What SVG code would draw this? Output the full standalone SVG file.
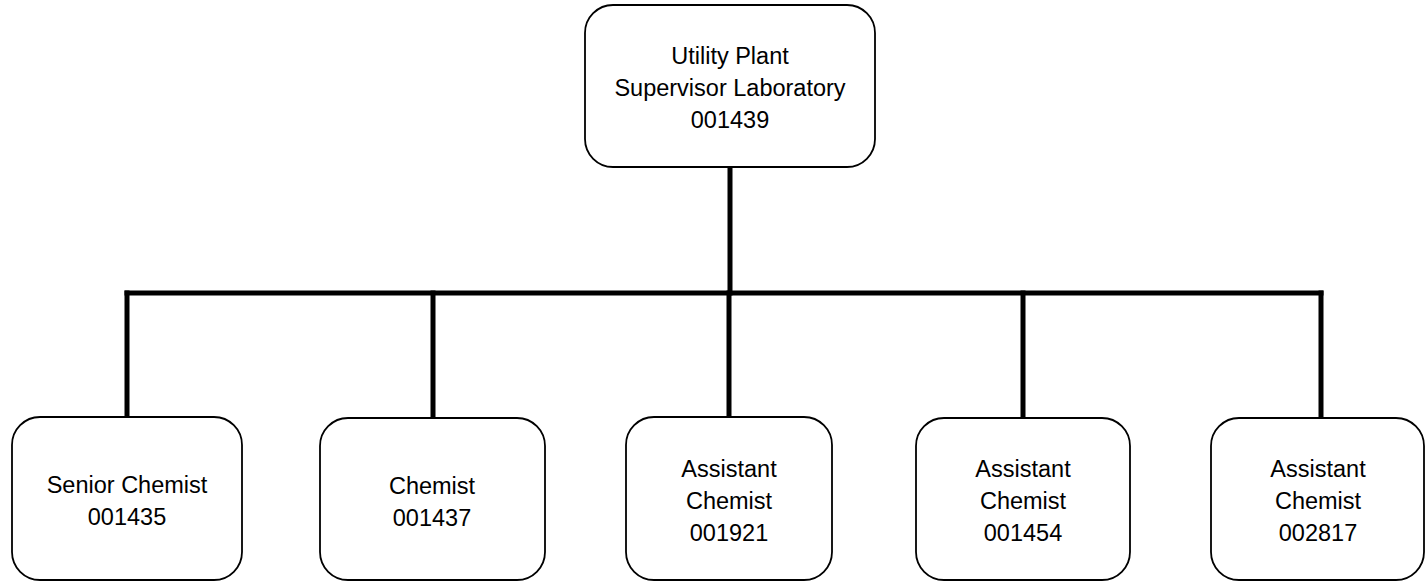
<svg xmlns="http://www.w3.org/2000/svg" width="1426" height="582" viewBox="0 0 1426 582">
<style>
.box{fill:#fff;stroke:#000;stroke-width:1.8}
.t{font-family:"Liberation Sans",Arial,sans-serif;font-size:23.5px;fill:#000;text-anchor:middle}
.c{stroke:#000;stroke-width:5;fill:none;stroke-linecap:square}
</style>
<rect width="1426" height="582" fill="#fff"/>
<g id="connectors">
<line class="c" x1="730" y1="167" x2="730" y2="293"/>
<line class="c" x1="127" y1="293" x2="1321" y2="293"/>
<line class="c" x1="127" y1="293" x2="127" y2="417"/>
<line class="c" x1="433" y1="293" x2="433" y2="417"/>
<line class="c" x1="729" y1="293" x2="729" y2="417"/>
<line class="c" x1="1023" y1="293" x2="1023" y2="417"/>
<line class="c" x1="1321" y1="293" x2="1321" y2="417"/>
</g>
<g id="n0">
<rect class="box" x="585" y="5" width="290" height="162" rx="28"/>
<text class="t" x="730" y="64">Utility Plant</text>
<text class="t" x="730" y="96">Supervisor Laboratory</text>
<text class="t" x="730" y="128">001439</text>
</g>
<g id="n1">
<rect class="box" x="12" y="417" width="230" height="163" rx="28"/>
<text class="t" x="127" y="493">Senior Chemist</text>
<text class="t" x="127" y="525">001435</text>
</g>
<g id="n2">
<rect class="box" x="320" y="418" width="225" height="162" rx="28"/>
<text class="t" x="432" y="494">Chemist</text>
<text class="t" x="432" y="526">001437</text>
</g>
<g id="n3">
<rect class="box" x="626" y="417" width="206" height="163" rx="28"/>
<text class="t" x="729" y="477">Assistant</text>
<text class="t" x="729" y="509">Chemist</text>
<text class="t" x="729" y="541">001921</text>
</g>
<g id="n4">
<rect class="box" x="916" y="418" width="214" height="162" rx="28"/>
<text class="t" x="1023" y="477">Assistant</text>
<text class="t" x="1023" y="509">Chemist</text>
<text class="t" x="1023" y="541">001454</text>
</g>
<g id="n5">
<rect class="box" x="1211" y="418" width="213" height="162" rx="28"/>
<text class="t" x="1318" y="477">Assistant</text>
<text class="t" x="1318" y="509">Chemist</text>
<text class="t" x="1318" y="541">002817</text>
</g>
</svg>
